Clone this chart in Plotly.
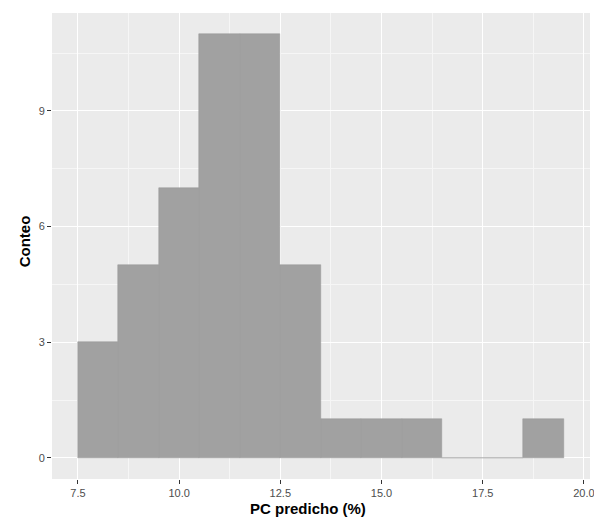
import plotly.graph_objects as go

# Histogram data
bin_left = [7.5, 8.5, 9.5, 10.5, 11.5, 12.5, 13.5, 14.5, 15.5, 16.5, 17.5, 18.5]
bin_width = 1.0
counts = [3, 5, 7, 11, 11, 5, 1, 1, 1, 0, 0, 1]

x_ticks = [7.5, 10.0, 12.5, 15.0, 17.5, 20.0]
x_tick_labels = ["7.5", "10.0", "12.5", "15.0", "17.5", "20.0"]
y_ticks = [0, 3, 6, 9]
y_tick_labels = ["0", "3", "6", "9"]

x_title = "PC predicho (%)"
y_title = "Conteo"

centers = [b + bin_width / 2 for b in bin_left]

fig = go.Figure(
    go.Bar(
        x=centers,
        y=counts,
        width=[bin_width] * len(centers),
        marker=dict(color="#A1A1A1", line=dict(color="#979797", width=0.5)),
        hoverinfo="x+y",
    )
)

font_family = "Liberation Sans, Arial, sans-serif"

# The page body adds an 8px offset, so the figure is sized 8px smaller.
fig.update_layout(
    width=594,
    height=516,
    margin=dict(l=44, r=12, t=5, b=45),
    paper_bgcolor="white",
    plot_bgcolor="#EBEBEB",
    showlegend=False,
    bargap=0,
    font=dict(family=font_family),
    xaxis=dict(
        range=[6.86, 20.15],
        automargin=False,
        tickmode="array",
        tickvals=x_ticks,
        ticktext=x_tick_labels,
        ticks="outside",
        ticklen=4,
        tickcolor="#333333",
        tickwidth=1,
        tickfont=dict(size=11, color="#4D4D4D"),
        showgrid=True,
        gridcolor="white",
        gridwidth=1.2,
        minor=dict(dtick=1.25, tick0=7.5, showgrid=True, gridcolor="#F6F6F6", gridwidth=0.6),
        zeroline=False,
        showline=False,
    ),
    yaxis=dict(
        range=[-0.545, 11.54],
        automargin=False,
        tickmode="array",
        tickvals=y_ticks,
        ticktext=y_tick_labels,
        ticks="outside",
        ticklen=4,
        tickcolor="#333333",
        tickwidth=1,
        tickfont=dict(size=11, color="#4D4D4D"),
        showgrid=True,
        gridcolor="white",
        gridwidth=1.2,
        minor=dict(dtick=1.5, tick0=0, showgrid=True, gridcolor="#F6F6F6", gridwidth=0.6),
        zeroline=False,
        showline=False,
    ),
    annotations=[
        dict(
            text="<b>" + x_title + "</b>",
            xref="paper", yref="paper", x=0.476, y=0,
            xanchor="center", yanchor="middle", yshift=-29,
            showarrow=False, font=dict(size=15, color="black"),
        ),
        dict(
            text="<b>" + y_title + "</b>",
            xref="paper", yref="paper", x=0, y=0.51,
            xanchor="center", yanchor="middle", xshift=-28, textangle=-90,
            showarrow=False, font=dict(size=15, color="black"),
        ),
    ],
)

fig.write_html("out.html")
